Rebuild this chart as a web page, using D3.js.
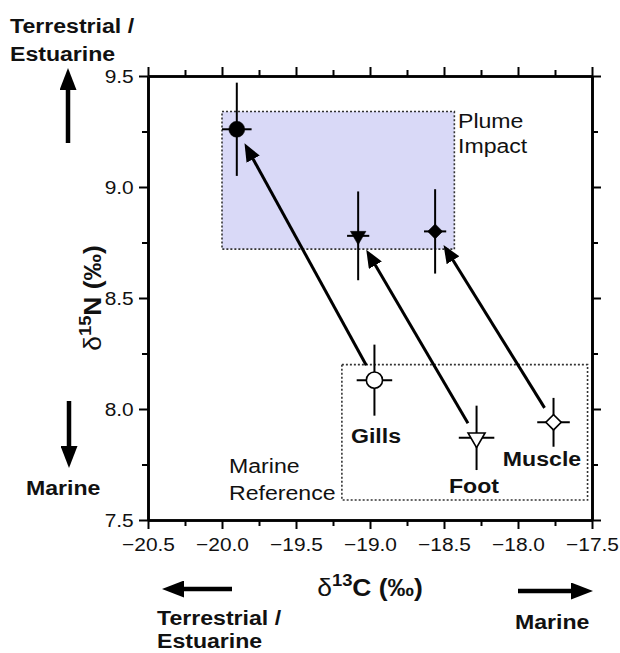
<!DOCTYPE html>
<html>
<head>
<meta charset="utf-8">
<script src="https://cdn.jsdelivr.net/npm/d3@7"></script>
<style>
body { margin: 0; background: #fff; }
text { font-family: "Liberation Sans", Arial, Helvetica, sans-serif; fill: #111; }
</style>
</head>
<body>
<div id="screen"></div>
<script>

// values (d13C, d15N and +/- errors)
const tissues = ["Gills", "Foot", "Muscle"];
const marineC = [-18.97, -18.28, -17.76];
const marineN = [8.13, 7.87, 7.94];
const marineCErr = [0.12, 0.12, 0.11];
const marineNErr = [0.16, 0.145, 0.11];
const plumeC = [-19.90, -19.08, -18.56];
const plumeN = [9.26, 8.78, 8.80];
const plumeCErr = [0.10, 0.075, 0.075];
const plumeNErr = [0.21, 0.20, 0.19];

const xTicks = [-20.5, -20.0, -19.5, -19.0, -18.5, -18.0, -17.5];
const xMinor = [-20.25, -19.75, -19.25, -18.75, -18.25, -17.75];
const yTicks = [7.5, 8.0, 8.5, 9.0, 9.5];
const yMinor = [7.75, 8.25, 8.75, 9.25];

// [c0, c1, n0, n1]
const plumeBox = [-20.0, -18.43, 8.72, 9.34];
const marineBox = [-19.19, -17.53, 7.59, 8.20];

var width = 620;
var height = 653;
var plot = {left: 148, right: 592, top: 76, bottom: 520};
var stretch = "scale(1.1,1)";   // the original type is set a bit wide

var svg = d3.select("#screen").append("svg")
    .attr("width", width)
    .attr("height", height);

var x = d3.scaleLinear().domain([-20.5, -17.5]).range([plot.left, plot.right]);
var y = d3.scaleLinear().domain([7.5, 9.5]).range([plot.bottom, plot.top]);

var defs = svg.append("defs");
defs.append("marker")
    .attr("id", "head")
    .attr("viewBox", "0 0 18 15")
    .attr("refX", 8).attr("refY", 7.5)
    .attr("markerWidth", 18).attr("markerHeight", 15)
    .attr("markerUnits", "userSpaceOnUse")
    .attr("orient", "auto")
    .append("path").attr("d", "M0,0L18,7.5L0,15Z").attr("fill", "#000");
defs.append("marker")
    .attr("id", "bighead")
    .attr("viewBox", "0 0 22 17")
    .attr("refX", 10).attr("refY", 8.5)
    .attr("markerWidth", 22).attr("markerHeight", 17)
    .attr("markerUnits", "userSpaceOnUse")
    .attr("orient", "auto")
    .append("path").attr("d", "M0,0L22,8.5L0,17Z").attr("fill", "#000");

const drawBox = function(b, fill) {
    svg.append("rect")
        .attr("x", x(b[0]))
        .attr("y", y(b[3]))
        .attr("width", x(b[1]) - x(b[0]))
        .attr("height", y(b[2]) - y(b[3]))
        .attr("fill", fill)
        .attr("stroke", "#333")
        .attr("stroke-width", 1.6)
        .attr("stroke-dasharray", "2,2");
};

drawBox(plumeBox, "#d9d9f7");
drawBox(marineBox, "none");

// axes: major + minor on all four sides, labels only left and bottom
const fmt = d3.format(".1f");
const styleAxis = function(g) {
    g.select(".domain").attr("stroke", "#000").attr("stroke-width", 2.6);
    g.selectAll(".tick line").attr("stroke", "#000").attr("stroke-width", 2);
    g.selectAll("text")
        .attr("transform", stretch)
        .style("font-size", "19px")
        .style("font-family", "'Liberation Sans', Arial, sans-serif")
        .attr("fill", "#111");
};

const addAxis = function(axisFn, scale, translate, ticks, minor, labels) {
    svg.append("g").attr("transform", translate)
        .call(axisFn(scale).tickValues(minor).tickSize(6).tickSizeOuter(0).tickFormat(""))
        .call(styleAxis);
    var a = axisFn(scale).tickValues(ticks).tickSize(9).tickSizeOuter(0);
    if (labels) a.tickFormat(fmt).tickPadding(axisFn === d3.axisBottom ? 9 : 4);
    else a.tickFormat("");
    svg.append("g").attr("transform", translate).call(a).call(styleAxis);
};

addAxis(d3.axisLeft, y, "translate(" + plot.left + ",0)", yTicks, yMinor, true);
addAxis(d3.axisRight, y, "translate(" + plot.right + ",0)", yTicks, yMinor, false);
addAxis(d3.axisBottom, x, "translate(0," + plot.bottom + ")", xTicks, xMinor, true);
addAxis(d3.axisTop, x, "translate(0," + plot.top + ")", xTicks, xMinor, false);

// arrows from marine reference to plume impact
tissues.forEach((t, i) => {
    var x0 = x(marineC[i]), y0 = y(marineN[i]);
    var x1 = x(plumeC[i]), y1 = y(plumeN[i]);
    var len = Math.hypot(x1 - x0, y1 - y0);
    var ux = (x1 - x0) / len, uy = (y1 - y0) / len;
    svg.append("line")
        .attr("x1", x0 + ux * 17).attr("y1", y0 + uy * 17)
        .attr("x2", x1 - ux * 26).attr("y2", y1 - uy * 26)
        .attr("stroke", "#000")
        .attr("stroke-width", 3)
        .attr("marker-end", "url(#head)");
});

const shapes = [d3.symbolCircle, d3.symbolTriangle, d3.symbolSquare];
const turns = [0, 180, 45];

const drawPoints = function(cs, ns, cErr, nErr, filled, sizes) {
    tissues.forEach((t, i) => {
        var cx = x(cs[i]), cy = y(ns[i]);
        svg.append("line")
            .attr("x1", cx).attr("x2", cx)
            .attr("y1", y(ns[i] + nErr[i])).attr("y2", y(ns[i] - nErr[i]))
            .attr("stroke", "#000").attr("stroke-width", 2);
        svg.append("line")
            .attr("x1", x(cs[i] - cErr[i])).attr("x2", x(cs[i] + cErr[i]))
            .attr("y1", cy).attr("y2", cy)
            .attr("stroke", "#000").attr("stroke-width", 2);
        svg.append("path")
            .attr("d", d3.symbol().type(shapes[i]).size(sizes[i])())
            .attr("transform", "translate(" + cx + "," + cy + ") rotate(" + turns[i] + ")")
            .attr("fill", filled ? "#000" : "#fff")
            .attr("stroke", "#000")
            .attr("stroke-width", filled ? 0.5 : 1.6);
    });
};

drawPoints(marineC, marineN, marineCErr, marineNErr, false, [205, 125, 118]);
drawPoints(plumeC, plumeN, plumeCErr, plumeNErr, true, [200, 105, 112]);

// text helper: put a (slightly stretched) text at a spot
const label = function(str, px, py, bold, anchor) {
    return svg.append("g")
        .attr("transform", "translate(" + px + "," + py + ") " + stretch)
        .append("text")
        .attr("text-anchor", anchor || "start")
        .style("font-size", "21px")
        .style("font-weight", bold ? "bold" : "normal")
        .text(str);
};

label("Gills", 376, 443, true, "middle");
label("Foot", 474, 493, true, "middle");
label("Muscle", 542, 466, true, "middle");
label("Plume", 458, 128);
label("Impact", 458, 153);
label("Marine", 229, 473);
label("Reference", 229, 500);

label("Terrestrial /", 10, 33, true);
label("Estuarine", 10, 61, true);
label("Marine", 26, 495, true);
label("Terrestrial /", 157, 625, true);
label("Estuarine", 157, 648, true);
label("Marine", 515, 629, true);

// direction arrows outside the plot
const bigArrow = function(xa, ya, xb, yb) {
    svg.append("line")
        .attr("x1", xa).attr("y1", ya).attr("x2", xb).attr("y2", yb)
        .attr("stroke", "#000").attr("stroke-width", 4.5)
        .attr("marker-end", "url(#bighead)");
};
bigArrow(68, 143, 68, 80);
bigArrow(69, 401, 69, 456);
bigArrow(232, 589, 174, 589);
bigArrow(518, 591, 581, 591);

// axis titles
const axisTitle = function(transform, sup, main) {
    var t = svg.append("g").attr("transform", transform + " scale(1.15,1)")
        .append("text").attr("text-anchor", "middle")
        .style("font-size", "23px").style("font-weight", "bold");
    t.append("tspan").style("font-weight", "normal").text("\u03b4");
    t.append("tspan").attr("dy", -10).style("font-size", "16px").text(sup);
    t.append("tspan").attr("dy", 10).text(main);
};
axisTitle("translate(370,596)", "13", "C (\u2030)");
axisTitle("translate(101,298) rotate(-90)", "15", "N (\u2030)");

</script>
</body>
</html>
